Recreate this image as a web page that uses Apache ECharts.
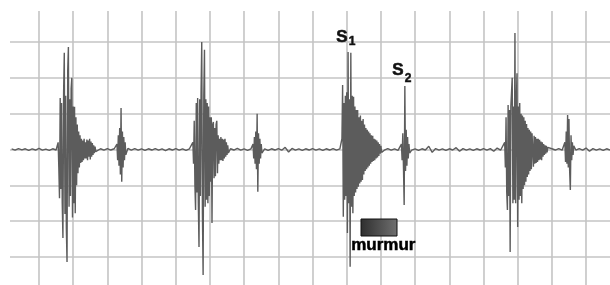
<!DOCTYPE html>
<html>
<head>
<meta charset="utf-8">
<script src="https://cdn.jsdelivr.net/npm/echarts@6/dist/echarts.min.js"></script>
<style>
  html, body { margin: 0; padding: 0; background: #fff; }
  #chart { width: 610px; height: 285px; }
</style>
</head>
<body>
<div id="chart"></div>
<script>
// time in ms (one grid cell = 100 ms), amplitude in grid cells
var burstStep = 2;
var noiseStart = 20;
var noiseStep = 10;

var beat1S1 = [0.2, -0.5, -1.36, 1.44, -1.1, 1.3, -1.5, -2.47, 1.6, 2.7,
  -1.8, 1.5, -2.2, -3.14, 2.2, 2.86, -1.6, 1.4, -1.3, 1.7,
  2.0, -1.9, 1.2, -1.5, 1.19, -1.78, 0.9, -1.0, 0.7, -0.66,
  0.5, -0.5, 0.4, -0.38, 0.3, -0.35, 0.25, -0.3, 0.3, -0.25,
  0.2, -0.25, 0.28, -0.3, 0.25, -0.2, 0.3, -0.28, 0.22, -0.2,
  0.18, -0.15, 0.12, -0.1, 0.08, -0.06];
var beat1S2 = [0.15, -0.3, 0.4, -0.45, 0.6, -0.7, 1.16, -0.9, 0.5, -0.5, 0.35, -0.3, 0.2, -0.15];
var beat2S1 = [0.2, -0.4, 0.8, -1.0, -1.69, 1.3, -1.2, 1.44, -1.5, -2.72,
  1.4, -1.3, 1.6, 3.0, -1.8, -3.5, 1.5, 2.78, -1.6, 1.4,
  -1.4, 1.3, -1.5, 1.2, -1.3, 0.9, -0.9, 0.9, -2.05, 0.7,
  0.77, -0.8, 0.6, -0.75, 0.7, 0.8, -0.66, 0.4, -0.4, 0.3,
  -0.3, 0.35, -0.3, 0.3, -0.32, 0.28, -0.25, 0.3, -0.2, 0.2,
  -0.15, 0.12, -0.1];
var beat2S2 = [0.15, -0.25, 0.35, -0.4, 0.5, -0.55, 1.0, -1.18, 0.45, -0.4, 0.3, -0.25, 0.15, -0.1];
var beat3S1 = [0.3, 1.8, -1.88, 1.3, -1.4, 1.5, -1.3, 1.6, -2.33, 2.72,
  -1.5, 1.4, -3.27, 2.7, -1.6, 1.5, -1.78, 1.47, -1.3, 1.2,
  -1.2, 1.1, -1.1, 1.1, -1.04, 0.9, -0.95, 0.95, -0.9, 0.8,
  -0.85, 0.85, -0.7, 0.7, -0.6, 0.6, -0.55, 0.55, -0.5, 0.5,
  -0.45, 0.45, -0.4, 0.4, -0.35, 0.38, -0.32, 0.3, -0.3, 0.28,
  -0.25, 0.25, -0.22, 0.2, -0.18, 0.15, -0.12, 0.1, -0.08];
var beat3S2 = [0.15, -0.3, 0.45, -0.5, -1.55, 1.77, -0.6, 0.55, -0.45, 0.35, -0.25, 0.15, -0.1];
var beat4S1 = [0.2, -0.5, 0.9, -1.2, -1.69, 1.24, -1.3, 1.1, -2.86, 1.2,
  1.6, 2.0, -1.5, 1.2, -1.4, 3.25, -1.5, 1.3, 2.13, -2.16,
  1.2, -1.4, 1.3, -1.3, 1.0, -1.5, 0.95, -1.1, 0.9, -1.0,
  0.8, -0.9, 0.71, -0.77, 0.6, -0.7, 0.55, -0.6, 0.5, -0.55,
  0.45, 0.4, -0.48, 0.38, -0.4, 0.35, -0.38, 0.3, -0.35, 0.3,
  -0.3, 0.27, -0.28, 0.22, -0.3, 0.2, -0.2, 0.15, -0.15, 0.12,
  -0.12, 0.1, -0.08, 0.06];
var beat4S2 = [0.2, -0.35, 0.5, -0.4, 0.96, -0.5, 0.85, -0.6, -1.13, 0.4, -0.3, 0.2, -0.15, 0.1];

var bursts = [beat1S1, beat1S2, beat2S1, beat2S2, beat3S1, beat3S2, beat4S1, beat4S2];
var burstStarts = [156, 328, 550, 726, 986, 1160, 1462, 1638];

// baseline jitter, one value every 10 ms from 20 ms on
var noise = [0.015, -0.02, 0.025, -0.01, 0.02, -0.025, 0.015, -0.015, 0.03, -0.02,
  0.01, -0.025, 0.02, -0.015, 0.025, -0.01, 0.015, -0.03, 0.02, -0.015,
  0.025, -0.02, 0.015, -0.025, 0.01, -0.015, 0.02, -0.02, 0.025, -0.015,
  0.02, -0.025, 0.015, -0.02, 0.03, -0.015, 0.025, -0.02, 0.015, -0.025,
  0.02, -0.015, 0.025, -0.02, 0.015, -0.03, 0.02, -0.015, 0.025, -0.02,
  0.015, -0.025, 0.02, -0.01, 0.025, -0.02, 0.015, -0.025, 0.02, -0.015,
  0.025, -0.02, 0.015, -0.025, 0.02, -0.015, 0.03, -0.02, 0.015, -0.025,
  0.02, -0.015, 0.025, -0.02, 0.015, -0.025, 0.02, -0.015, 0.025, -0.02,
  0.06, -0.07, 0.03, -0.02, 0.015, -0.025, 0.02, -0.015, 0.025, -0.02,
  0.015, -0.025, 0.02, -0.015, 0.025, -0.02, 0.015, -0.025, 0.02, -0.015,
  0.02, -0.015, 0.025, -0.02, 0.015, -0.025, 0.02, -0.015, 0.025, -0.02,
  0.025, -0.02, 0.015, -0.025, 0.02, -0.015, 0.025, -0.02, 0.015, -0.025,
  0.02, -0.015, 0.09, -0.08, 0.025, -0.02, 0.015, -0.025, 0.02, -0.015,
  0.05, -0.05, 0.025, -0.02, 0.015, -0.025, 0.02, -0.015, 0.025, -0.02,
  0.025, -0.05, 0.04, -0.02, 0.015, -0.025, 0.02, -0.015, 0.025, -0.02,
  0.015, -0.025, 0.02, -0.015, 0.025, -0.02, 0.015, -0.025, 0.02, -0.015,
  0.025, -0.02, 0.015, -0.025, 0.02, -0.015, 0.025, -0.02, 0.04, -0.05,
  0.025, -0.02, 0.015, -0.025, 0.02, -0.015];

var points = [];
var windows = [];
bursts.forEach(function (vals, k) {
  var t0 = burstStarts[k];
  windows.push([t0, t0 + (vals.length - 1) * burstStep]);
  vals.forEach(function (v, i) { points.push([t0 + i * burstStep, v]); });
});
noise.forEach(function (v, i) {
  var t = noiseStart + i * noiseStep;
  var inside = windows.some(function (w) { return t >= w[0] - 3 && t <= w[1] + 3; });
  if (!inside) points.push([t, v]);
});
points.sort(function (a, b) { return a[0] - b[0]; });

var gridColor = '#c4c4c4';
var labelFont = '"Liberation Sans", Arial, sans-serif';
var chart = echarts.init(document.getElementById('chart'));
var option = {
  animation: false,
  backgroundColor: '#ffffff',
  grid: [
    { left: 4.8, right: 0, top: 11, bottom: 0, outerBoundsMode: 'none' },
    { left: 10, right: 0, top: 6.2, height: 286.6, outerBoundsMode: 'none' }
  ],
  xAxis: [
    {
      gridIndex: 0, type: 'value', min: 0, max: 1770, interval: 100,
      axisLine: { show: false }, axisTick: { show: false }, axisLabel: { show: false },
      splitLine: { show: true, showMinLine: false, showMaxLine: false, lineStyle: { color: gridColor, width: 1.6 } }
    },
    { gridIndex: 1, type: 'value', min: 0, max: 1, show: false }
  ],
  yAxis: [
    {
      gridIndex: 0, type: 'value', min: -3.782, max: 3.865,
      axisLine: { show: false }, axisTick: { show: false }, axisLabel: { show: false },
      splitLine: { show: false }
    },
    {
      gridIndex: 1, type: 'value', min: -4, max: 4, interval: 1,
      axisLine: { show: false }, axisTick: { show: false }, axisLabel: { show: false },
      splitLine: { show: true, showMinLine: false, showMaxLine: false, lineStyle: { color: gridColor, width: 1.6 } }
    }
  ],
  series: [
    {
      type: 'line',
      xAxisIndex: 0,
      yAxisIndex: 0,
      data: points,
      showSymbol: false,
      sampling: null,
      lineStyle: { color: '#5c5c5c', width: 1.4 },
      z: 3
    }
  ],
  graphic: [
    { type: 'text', z: 100, left: 336, top: 29, style: { text: 'S', font: 'bold 17px ' + labelFont, fill: '#111', stroke: '#111', lineWidth: 0.6 } },
    { type: 'text', z: 100, left: 348.5, top: 35.5, style: { text: '1', font: 'bold 12px ' + labelFont, fill: '#111', stroke: '#111', lineWidth: 0.5 } },
    { type: 'text', z: 100, left: 392, top: 62, style: { text: 'S', font: 'bold 17px ' + labelFont, fill: '#111', stroke: '#111', lineWidth: 0.6 } },
    { type: 'text', z: 100, left: 404.5, top: 72.5, style: { text: '2', font: 'bold 12px ' + labelFont, fill: '#111', stroke: '#111', lineWidth: 0.5 } },
    {
      type: 'rect', z: 100, shape: { x: 361, y: 219, width: 36, height: 17 },
      style: {
        fill: new echarts.graphic.LinearGradient(0, 0, 1, 0, [
          { offset: 0, color: '#2e2e2e' },
          { offset: 1, color: '#707070' }
        ]),
        stroke: '#111', lineWidth: 1
      }
    },
    { type: 'text', z: 100, left: 351, top: 237, style: { text: 'murmur', font: 'bold 17px ' + labelFont, fill: '#000', stroke: '#000', lineWidth: 0.5 } }
  ]
};
chart.setOption(option);
</script>
</body>
</html>
